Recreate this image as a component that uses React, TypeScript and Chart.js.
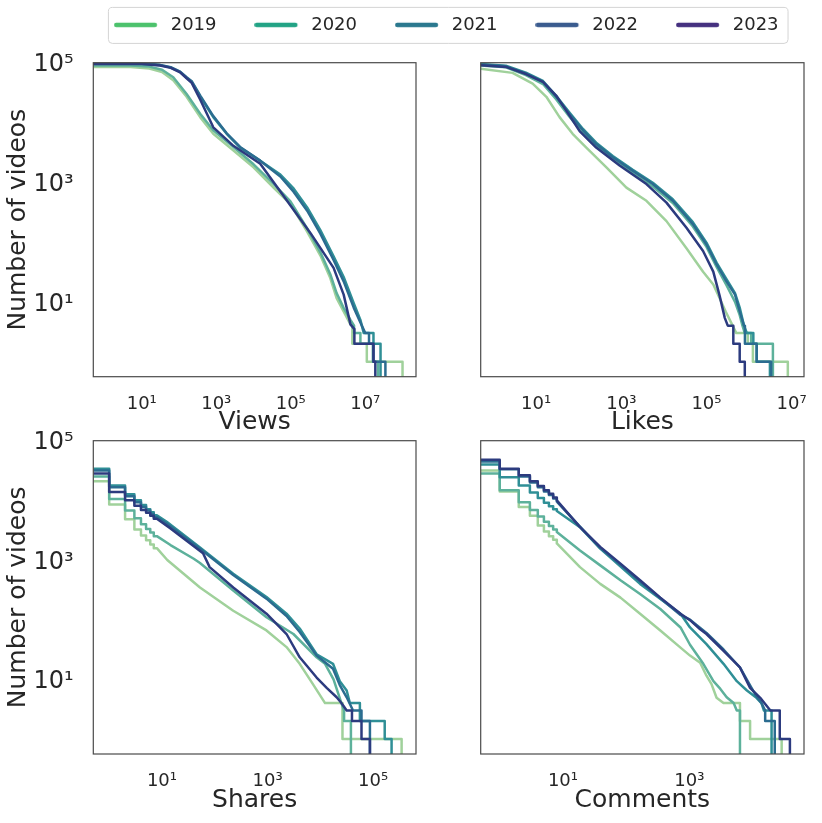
import React, { useEffect, useRef } from 'react';
import { Chart, registerables } from 'chart.js';

Chart.register(...registerables);

type Pt = [number, number];

const FONT = "'DejaVu Sans', 'Liberation Sans', sans-serif";
const TEXT = '#262626';
Chart.defaults.font.family = FONT;

const YEARS = ['2019', '2020', '2021', '2022', '2023'];
const LINE_COLORS = ['#a0d19b', '#5db19b', '#2f8f96', '#2b6c90', '#2c3b7f'];
const LEGEND_COLORS = ['#4cc26c', '#22a385', '#2a788e', '#3a5b8e', '#45307f'];

const Y_TICKS = [10, 1000, 100000];
const Y_MIN = 0.56;
const Y_MAX = 100000;
const Y_TITLE = 'Number of videos';

const VIEWS_TICKS = [10, 1e3, 1e5, 1e7];
const LIKES_TICKS = [10, 1e3, 1e5, 1e7];
const SHARES_TICKS = [10, 1e3, 1e5];
const COMMENTS_TICKS = [10, 1e3];

// ---------- Views ----------
const views2019: Pt[] = [[0.5, 85000], [5, 84500], [16, 80000], [35, 70000], [70, 51000], [160, 27000], [370, 12300], [830, 6500], [2900, 3400], [10000, 1780], [35000, 810], [98000, 430], [275000, 150], [620000, 60], [1150000, 25], [1700000, 11.5], [2600000, 7], [4000000, 4.2], [4500000, 4], [4500000, 2], [11000000, 2], [11000000, 1], [100000000, 1], [100000000, 0.3]];
const views2020: Pt[] = [[0.5, 90000], [5, 89500], [16, 86000], [35, 76000], [70, 57000], [160, 30000], [370, 14000], [830, 7400], [2900, 3900], [10000, 2000], [35000, 930], [98000, 480], [275000, 170], [620000, 68], [1150000, 29], [1700000, 14], [2600000, 8], [4000000, 5], [5000000, 4], [5000000, 3], [7400000, 3], [7400000, 2], [16000000, 2], [16000000, 1], [22000000, 1], [22000000, 0.3]];
const views2021: Pt[] = [[0.5, 96000], [10, 96000], [31, 91000], [60, 83000], [107, 70000], [160, 56000], [219, 47900], [372, 26900], [832, 12300], [1905, 6460], [4365, 3800], [15136, 2290], [52481, 1350], [120226, 780], [275423, 380], [616595, 160], [1410000, 58], [2630000, 26], [4900000, 9.5], [7400000, 5], [9100000, 3], [16600000, 3], [16600000, 2], [25700000, 2], [25700000, 0.3]];
const views2022: Pt[] = [[0.5, 97700], [10, 97700], [31, 92000], [60, 84000], [107, 71000], [160, 57000], [219, 49000], [372, 28000], [832, 12800], [1905, 6600], [4365, 3900], [15136, 2300], [52481, 1250], [120226, 690], [275423, 335], [616595, 140], [1410000, 50], [2630000, 22], [4900000, 8], [7400000, 4.5], [10000000, 3], [12600000, 3], [12600000, 2], [16600000, 2], [16600000, 1], [34700000, 1], [34700000, 0.3]];
const views2023: Pt[] = [[0.5, 95000], [10, 95000], [31, 90000], [60, 82000], [107, 69000], [160, 55000], [219, 46000], [372, 24000], [832, 8300], [2884, 4070], [15136, 2040], [79433, 490], [338844, 141], [1410000, 37], [2630000, 13.2], [4000000, 4.2], [5100000, 3.5], [5100000, 2], [16600000, 2], [16600000, 1], [18600000, 1], [18600000, 0.3]];

// ---------- Likes ----------
const likes2019: Pt[] = [[0.5, 79400], [2.8, 67600], [8.3, 44700], [17.4, 26900], [35.5, 12300], [72, 6460], [151, 3800], [447, 1780], [1318, 813], [3890, 490], [11500, 224], [33900, 79], [83200, 32], [144500, 19.5], [204000, 11.5], [282000, 6.9], [398000, 4.2], [501000, 3], [933000, 3], [933000, 2], [1230000, 2], [1230000, 1], [8130000, 1], [8130000, 0.3]];
const likes2020: Pt[] = [[0.5, 90000], [1.95, 84000], [5.75, 62000], [14.5, 44000], [29.5, 24500], [60, 12600], [126, 6700], [257, 4000], [631, 2400], [1862, 1400], [5500, 850], [16200, 450], [47900, 182], [100000, 83], [173800, 38], [295000, 19], [468000, 10], [603000, 6], [700000, 4], [794000, 3], [1120000, 3], [1120000, 2], [3630000, 2], [3630000, 0.3]];
const likes2021: Pt[] = [[0.5, 95000], [1.95, 89000], [5.75, 68000], [14.5, 49500], [29.5, 28000], [60, 14800], [126, 7800], [257, 4600], [631, 2750], [1862, 1620], [5500, 980], [16200, 520], [47900, 215], [100000, 98], [173800, 45], [295000, 24], [468000, 14], [603000, 8], [760000, 4], [890000, 3], [1260000, 3], [1260000, 2], [1510000, 2], [1510000, 1], [3090000, 1], [3090000, 0.3]];
const likes2022: Pt[] = [[0.5, 93000], [1.95, 87000], [5.75, 66000], [14.5, 47900], [29.5, 26900], [60, 14100], [126, 7400], [257, 4365], [631, 2630], [1862, 1550], [5500, 933], [16200, 490], [47900, 200], [100000, 91], [173800, 42], [295000, 22], [468000, 13.2], [603000, 6.9], [760000, 4], [800000, 4], [800000, 2], [1510000, 2], [1510000, 1], [3310000, 1], [3310000, 0.3]];
const likes2023: Pt[] = [[0.5, 91000], [1.95, 85000], [5.75, 64600], [14.5, 47900], [29.5, 28200], [51, 15800], [105, 7200], [257, 3800], [912, 1905], [3890, 933], [11500, 457], [33900, 174], [83200, 71], [144500, 32], [204000, 12.6], [269000, 5.4], [316000, 4], [427000, 4], [427000, 2], [603000, 2], [603000, 1], [794000, 1], [794000, 0.3]];

// ---------- Shares ----------
const shares2019: Pt[] = [[0.5, 20900], [1, 20900], [1, 8500], [2, 8500], [2, 4800], [3, 4800], [3, 3240], [4, 3240], [4, 2570], [5, 2570], [5, 2140], [6, 2140], [6, 1820], [7, 1820], [7, 1580], [8, 1580], [12.6, 1000], [52.5, 347], [224, 141], [955, 66], [2290, 34.7], [4070, 18.2], [7240, 8.3], [12300, 4], [26300, 4], [26300, 1], [347000, 1], [347000, 0.3]];
const shares2020: Pt[] = [[0.5, 25100], [1, 25100], [1, 10500], [2, 10500], [2, 6760], [3, 6760], [3, 5010], [4, 5010], [4, 3980], [5, 3980], [5, 3310], [6, 3310], [6, 2880], [7, 2880], [7, 2510], [8, 2510], [14.5, 1780], [40, 1050], [52.5, 890], [224, 309], [955, 110], [3090, 57.5], [8510, 23.4], [12300, 18.2], [17800, 10], [25100, 4], [28200, 3], [28200, 2], [38000, 2], [38000, 0.3]];
const shares2021: Pt[] = [[0.5, 33900], [1, 33900], [1, 17800], [2, 17800], [2, 12600], [3, 12600], [3, 10000], [4, 10000], [4, 8320], [5, 8320], [5, 7080], [6, 7080], [6, 6310], [7, 6310], [7, 5620], [8, 5620], [12.3, 4365], [52.5, 1620], [224, 589], [955, 240], [2290, 126], [4070, 71], [8510, 26.3], [17400, 18.2], [23400, 9.3], [31600, 6.5], [36300, 4], [56200, 4], [56200, 2], [166000, 2], [166000, 1], [224000, 1], [224000, 0.3]];
const shares2022: Pt[] = [[0.5, 31600], [1, 31600], [1, 16600], [2, 16600], [2, 11700], [3, 11700], [3, 9330], [4, 9330], [4, 7760], [5, 7760], [5, 6760], [6, 6760], [6, 5890], [7, 5890], [7, 5250], [8, 5250], [12.3, 4100], [52.5, 1550], [224, 560], [955, 225], [2290, 115], [4070, 62], [8510, 25], [17400, 15], [23400, 8], [31600, 5], [41700, 3], [60300, 3], [60300, 2], [87100, 2], [87100, 0.3]];
const shares2023: Pt[] = [[0.5, 28200], [1, 28200], [1, 13800], [2, 13800], [2, 10000], [3, 10000], [3, 8130], [4, 8130], [4, 6920], [5, 6920], [5, 6170], [6, 6170], [6, 5500], [7, 5500], [7, 4900], [8, 4900], [14.5, 3390], [60, 1300], [80, 760], [224, 347], [955, 126], [2290, 57.5], [4070, 23.4], [8510, 10.7], [13200, 7.2], [20400, 5], [25100, 4], [31600, 3], [39800, 3], [39800, 2], [60300, 2], [60300, 1], [87100, 1], [87100, 0.3]];

// ---------- Comments ----------
const comments2019: Pt[] = [[0.5, 31600], [1, 31600], [1, 14100], [2, 14100], [2, 7760], [3, 7760], [3, 5500], [4, 5500], [4, 3800], [5, 3800], [5, 3020], [6, 3020], [6, 2510], [7, 2510], [7, 2190], [8, 2190], [8, 1900], [18.6, 759], [38.9, 398], [81.3, 234], [166, 126], [347, 66], [724, 34], [1023, 25], [1479, 19], [1862, 11.5], [2239, 8.3], [2692, 4.9], [3467, 4], [6310, 4], [6310, 2], [9120, 2], [9120, 1], [28800, 1], [28800, 0.3]];
const comments2020: Pt[] = [[0.5, 28200], [1, 28200], [1, 14800], [2, 14800], [2, 9330], [3, 9330], [3, 6920], [4, 6920], [4, 5370], [5, 5370], [5, 4370], [6, 4370], [6, 3720], [7, 3720], [7, 3240], [8, 3240], [8, 2950], [18.6, 1445], [38.9, 813], [81.3, 457], [166, 269], [347, 151], [724, 74], [1023, 38], [1660, 18.2], [2399, 9.3], [3090, 6.9], [3890, 5], [5010, 4], [5620, 3], [6310, 3], [6310, 0.3]];
const comments2021: Pt[] = [[0.5, 39800], [1, 39800], [1, 24500], [2, 24500], [2, 17800], [3, 17800], [3, 13500], [4, 13500], [4, 11000], [5, 11000], [5, 9100], [6, 9100], [6, 7940], [7, 7940], [7, 7080], [8, 7080], [8, 6610], [18.6, 3550], [38.9, 1550], [166, 398], [724, 126], [1023, 74], [1862, 39], [3467, 18.2], [5620, 9.3], [8130, 6.5], [11500, 4.9], [13800, 4], [15100, 3], [19950, 3], [19950, 0.3]];
const comments2022: Pt[] = [[0.5, 44700], [1, 44700], [1, 33100], [2, 33100], [2, 25100], [3, 25100], [3, 19950], [4, 19950], [4, 16600], [5, 16600], [5, 14100], [6, 14100], [6, 12300], [7, 12300], [7, 10700], [8, 10700], [8, 9550], [18.6, 3630], [38.9, 1585], [81.3, 832], [166, 437], [347, 229], [724, 120], [1023, 100], [1862, 60], [3467, 31.6], [6310, 15.8], [9120, 7.9], [11500, 5.2], [13800, 4], [15800, 3], [15800, 2], [22400, 2], [22400, 0.3]];
const comments2023: Pt[] = [[0.5, 47900], [1, 47900], [1, 33900], [2, 33900], [2, 26300], [3, 26300], [3, 20900], [4, 20900], [4, 17400], [5, 17400], [5, 14800], [6, 14800], [6, 12900], [7, 12900], [7, 11200], [8, 11200], [8, 10000], [18.6, 3550], [38.9, 1660], [81.3, 871], [166, 457], [347, 234], [724, 126], [1023, 98], [1479, 69], [1862, 57.5], [3467, 30], [6310, 15.8], [9120, 7.2], [13200, 4.9], [19100, 3], [26900, 3], [26900, 1], [38900, 1], [38900, 0.3]];

const SUP: Record<string, string> = { '0': '⁰', '1': '¹', '2': '²', '3': '³', '4': '⁴', '5': '⁵', '6': '⁶', '7': '⁷', '8': '⁸', '9': '⁹', '-': '⁻' };
function powLabel(v: number): string {
  const e = Math.round(Math.log10(v));
  return '10' + String(e).split('').map((c) => SUP[c] || c).join('');
}

const framePlugin = {
  id: 'frame',
  afterDatasetsDraw(chart: any) {
    const { ctx, chartArea } = chart;
    const { left, top, right, bottom } = chartArea;
    ctx.save();
    ctx.strokeStyle = '#4a4a4a';
    ctx.lineWidth = 1.2;
    ctx.strokeRect(left, top, right - left, bottom - top);
    ctx.restore();
  },
};

interface Box { left: number; top: number; width: number; height: number }
interface Area { left: number; top: number; right: number; bottom: number }

interface PanelProps {
  series: Pt[][];
  xMin: number;
  xMax: number;
  xTicks: number[];
  xTitle: string;
  showY: boolean;
  box: Box;
  area: Area;
  titlePad: number;
}

function Panel(props: PanelProps) {
  const ref = useRef<HTMLCanvasElement | null>(null);
  const { series, xMin, xMax, xTicks, xTitle, showY, box, area, titlePad } = props;
  useEffect(() => {
    if (!ref.current) return;
    const yAxisWidth = area.left - box.left;
    const xAxisHeight = box.top + box.height - area.bottom;
    const chart = new Chart(ref.current, {
      type: 'line',
      data: {
        datasets: series.map((pts, i) => ({
          label: YEARS[i],
          data: pts.map(([x, y]) => ({ x, y })),
          borderColor: LINE_COLORS[i],
          backgroundColor: LINE_COLORS[i],
          borderWidth: 2.5,
          borderJoinStyle: 'round' as const,
          pointRadius: 0,
          pointHoverRadius: 0,
          fill: false,
          tension: 0,
          order: YEARS.length - 1 - i,
        })),
      },
      options: {
        animation: false,
        responsive: false,
        maintainAspectRatio: false,
        events: [],
        layout: {
          padding: {
            left: 0,
            top: area.top - box.top,
            right: box.left + box.width - area.right,
            bottom: 0,
          },
        },
        plugins: { legend: { display: false }, tooltip: { enabled: false } },
        scales: {
          x: {
            type: 'logarithmic',
            min: xMin,
            max: xMax,
            grid: { display: false },
            border: { display: false },
            ticks: {
              autoSkip: false,
              maxRotation: 0,
              minRotation: 0,
              padding: 8.5,
              color: TEXT,
              font: { family: FONT, size: 18 },
              callback: (v: any) => powLabel(Number(v)),
            },
            afterBuildTicks: (scale: any) => {
              scale.ticks = xTicks.map((v) => ({ value: v }));
            },
            afterFit: (scale: any) => {
              scale.height = xAxisHeight;
              scale.paddingLeft = 0;
              scale.paddingRight = 0;
            },
            title: {
              display: true,
              text: xTitle,
              color: TEXT,
              font: { family: FONT, size: 25 },
              padding: { top: 0, bottom: titlePad },
            },
          },
          y: {
            type: 'logarithmic',
            min: Y_MIN,
            max: Y_MAX,
            grid: { display: false },
            border: { display: false },
            ticks: {
              display: showY,
              autoSkip: false,
              padding: 11.6,
              labelOffset: 2.5,
              color: TEXT,
              font: { family: FONT, size: 24 },
              callback: (v: any) => powLabel(Number(v)),
            },
            afterBuildTicks: (scale: any) => {
              scale.ticks = Y_TICKS.map((v) => ({ value: v }));
            },
            afterFit: (scale: any) => {
              scale.width = yAxisWidth;
              scale.paddingTop = 0;
              scale.paddingBottom = 0;
            },
            title: {
              display: showY,
              text: Y_TITLE,
              color: TEXT,
              font: { family: FONT, size: 25 },
              padding: { top: 3, bottom: 0 },
            },
          },
        },
      } as any,
      plugins: [framePlugin],
    });
    return () => chart.destroy();
  }, []);
  return (
    <canvas
      ref={ref}
      width={box.width}
      height={box.height}
      style={{ position: 'absolute', left: box.left, top: box.top, width: box.width, height: box.height, display: 'block' }}
    />
  );
}

function makeHandle(color: string): HTMLCanvasElement {
  const c = document.createElement('canvas');
  c.width = 48;
  c.height = 8;
  const g = c.getContext('2d')!;
  g.strokeStyle = color;
  g.lineWidth = 4.6;
  g.lineCap = 'round';
  g.beginPath();
  g.moveTo(2.4, 4);
  g.lineTo(41, 4);
  g.stroke();
  return c;
}

const legendFramePlugin = {
  id: 'legendFrame',
  afterDraw(chart: any) {
    const lg = chart.legend;
    if (!lg || !lg.legendHitBoxes || !lg.legendHitBoxes.length) return;
    const hb = lg.legendHitBoxes;
    const first = hb[0];
    const last = hb[hb.length - 1];
    const x0 = first.left - 6;
    const x1 = last.left + last.width + 9;
    const y0 = first.top - 9;
    const y1 = first.top + first.height + 9;
    const { ctx } = chart;
    ctx.save();
    ctx.strokeStyle = '#d4d4d4';
    ctx.lineWidth = 1;
    ctx.beginPath();
    ctx.roundRect(x0 + 0.5, y0 + 0.5, x1 - x0, y1 - y0, 4);
    ctx.stroke();
    ctx.restore();
  },
};

const LEGEND_BOX = { left: 75.9, top: -21.9, width: 746, height: 180 };

function LegendChart() {
  const ref = useRef<HTMLCanvasElement | null>(null);
  useEffect(() => {
    if (!ref.current) return;
    const handles = LEGEND_COLORS.map((c) => makeHandle(c));
    const chart = new Chart(ref.current, {
      type: 'line',
      data: {
        datasets: YEARS.map((y, i) => ({ label: y, data: [], borderColor: LEGEND_COLORS[i] })),
      },
      options: {
        animation: false,
        responsive: false,
        maintainAspectRatio: false,
        events: [],
        layout: { padding: 0 },
        scales: { x: { display: false }, y: { display: false } },
        plugins: {
          tooltip: { enabled: false },
          legend: {
            display: true,
            position: 'top',
            align: 'start',
            maxHeight: 120,
            labels: {
              usePointStyle: true,
              pointStyleWidth: 47.8,
              padding: 37.9,
              color: TEXT,
              font: { family: FONT, size: 18 },
              generateLabels: () =>
                YEARS.map((y, i) => ({
                  text: y,
                  pointStyle: handles[i],
                  fillStyle: LEGEND_COLORS[i],
                  strokeStyle: LEGEND_COLORS[i],
                  lineWidth: 1,
                  hidden: false,
                  datasetIndex: i,
                  fontColor: TEXT,
                })),
            },
          },
        },
      } as any,
      plugins: [legendFramePlugin],
    });
    return () => chart.destroy();
  }, []);
  return (
    <canvas
      ref={ref}
      width={LEGEND_BOX.width}
      height={LEGEND_BOX.height}
      style={{ position: 'absolute', left: LEGEND_BOX.left, top: LEGEND_BOX.top, width: LEGEND_BOX.width, height: LEGEND_BOX.height, display: 'block' }}
    />
  );
}

export default function App() {
  return (
    <div style={{ position: 'absolute', left: 0, top: 0, width: 822, height: 823, overflow: 'hidden', background: '#ffffff' }}>
      <LegendChart />
      <Panel
        series={[views2019, views2020, views2021, views2022, views2023]}
        xMin={0.5}
        xMax={2.3e8}
        xTicks={VIEWS_TICKS}
        xTitle="Views"
        showY={true}
        box={{ left: 0, top: 50, width: 420, height: 388 }}
        area={{ left: 93.3, top: 62.7, right: 416, bottom: 376.7 }}
        titlePad={1}
      />
      <Panel
        series={[likes2019, likes2020, likes2021, likes2022, likes2023]}
        xMin={0.5}
        xMax={1.95e7}
        xTicks={LIKES_TICKS}
        xTitle="Likes"
        showY={false}
        box={{ left: 420, top: 50, width: 402, height: 388 }}
        area={{ left: 480.7, top: 62.7, right: 804, bottom: 376.7 }}
        titlePad={1}
      />
      <Panel
        series={[shares2019, shares2020, shares2021, shares2022, shares2023]}
        xMin={0.5}
        xMax={6.5e5}
        xTicks={SHARES_TICKS}
        xTitle="Shares"
        showY={true}
        box={{ left: 0, top: 428, width: 420, height: 395 }}
        area={{ left: 93.3, top: 440.7, right: 416, bottom: 754 }}
        titlePad={8}
      />
      <Panel
        series={[comments2019, comments2020, comments2021, comments2022, comments2023]}
        xMin={0.5}
        xMax={6.5e4}
        xTicks={COMMENTS_TICKS}
        xTitle="Comments"
        showY={false}
        box={{ left: 420, top: 428, width: 402, height: 395 }}
        area={{ left: 480.7, top: 440.7, right: 804, bottom: 754 }}
        titlePad={8}
      />
    </div>
  );
}
